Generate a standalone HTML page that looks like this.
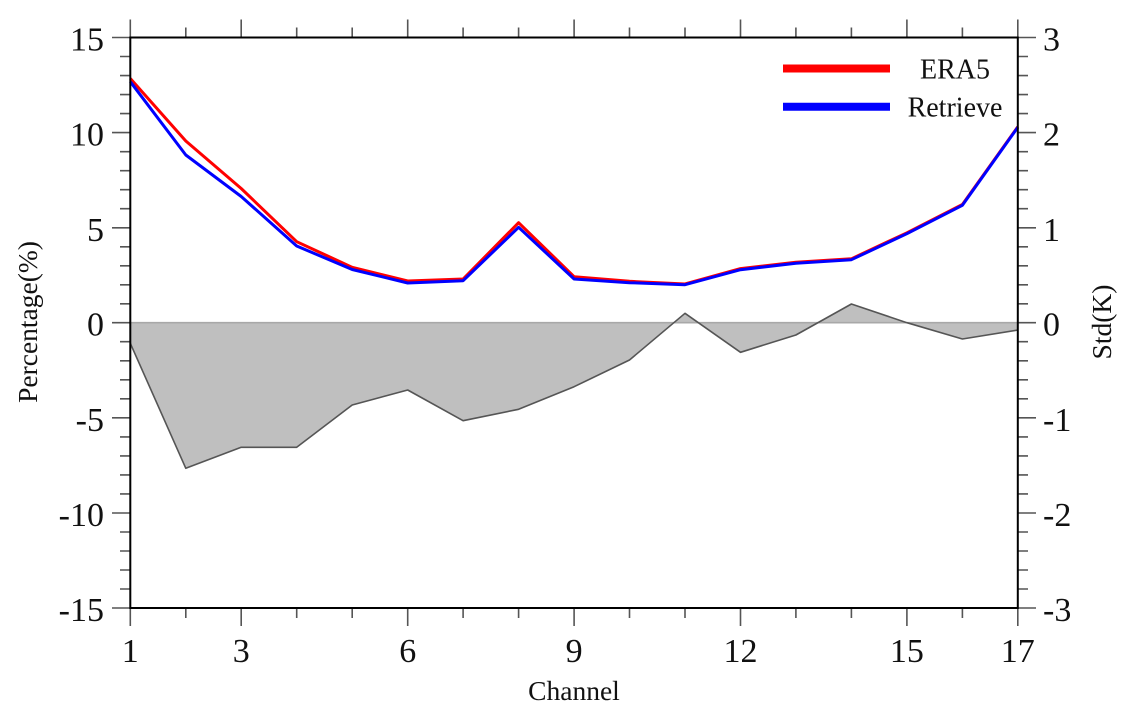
<!DOCTYPE html>
<html><head><meta charset="utf-8"><style>
html,body{margin:0;padding:0;background:#fff;}
svg{display:block;}
text{font-family:"Liberation Serif","Times New Roman",serif;fill:#111;}
</style></head><body>
<svg width="1124" height="715" viewBox="0 0 1124 715" xmlns="http://www.w3.org/2000/svg">
<rect width="1124" height="715" fill="#fff"/>
<!-- shaded area -->
<polygon fill="#bfbfbf" stroke="none" points="130.3,322.7 130.3,343.3 185.8,468.3 241.2,447.3 296.7,447.3 352.2,405 407.7,390 463.1,420.7 518.6,409.3 574.1,386.7 629.5,360 685,313.3 740.5,352.3 795.9,335 851.4,304 906.9,322.7 962.4,339 1017.8,330 1017.8,322.7"/>
<line x1="130" y1="322.7" x2="1018" y2="322.7" stroke="#a8a8a8" stroke-width="1.6"/>
<polyline fill="none" stroke="#555" stroke-width="1.6" stroke-linejoin="round" points="130.3,343.3 185.8,468.3 241.2,447.3 296.7,447.3 352.2,405 407.7,390 463.1,420.7 518.6,409.3 574.1,386.7 629.5,360 685,313.3 740.5,352.3 795.9,335 851.4,304 906.9,322.7 962.4,339 1017.8,330"/>
<!-- ERA5 -->
<polyline fill="none" stroke="#ff0000" stroke-width="3" stroke-linejoin="round" points="130.3,78.5 185.8,141 241.2,188.5 296.7,241.7 352.2,267.3 407.7,281 463.1,279 518.6,222.7 574.1,276.7 629.5,281.3 685,284 740.5,268.6 795.9,262.3 851.4,258.8 906.9,232.8 962.4,204.5 1017.8,126.8"/>
<!-- Retrieve -->
<polyline fill="none" stroke="#0000ff" stroke-width="3" stroke-linejoin="round" points="130.3,81.7 185.8,155 241.2,196.5 296.7,246 352.2,269.5 407.7,283 463.1,280.7 518.6,227.3 574.1,279 629.5,282.7 685,284.7 740.5,269.7 795.9,263.2 851.4,259.7 906.9,233.7 962.4,205.3 1017.8,127.3"/>
<!-- ticks -->
<g stroke="#555" stroke-width="1.6">
<!-- left/right y ticks: major every 5, minor every 1 -->
<path d="
M112,37.5H130 M120,56.5H130 M120,75.6H130 M120,94.6H130 M120,113.6H130
M112,132.6H130 M120,151.7H130 M120,170.7H130 M120,189.7H130 M120,208.7H130
M112,227.8H130 M120,246.8H130 M120,265.8H130 M120,284.8H130 M120,303.8H130
M112,322.7H130 M120,341.7H130 M120,360.8H130 M120,379.8H130 M120,398.8H130
M112,417.8H130 M120,436.9H130 M120,455.9H130 M120,474.9H130 M120,493.9H130
M112,513H130 M120,532H130 M120,551H130 M120,570H130 M120,589H130
M112,608H130
M1018,37.5H1036 M1018,56.5H1028 M1018,75.6H1028 M1018,94.6H1028 M1018,113.6H1028
M1018,132.6H1036 M1018,151.7H1028 M1018,170.7H1028 M1018,189.7H1028 M1018,208.7H1028
M1018,227.8H1036 M1018,246.8H1028 M1018,265.8H1028 M1018,284.8H1028 M1018,303.8H1028
M1018,322.7H1036 M1018,341.7H1028 M1018,360.8H1028 M1018,379.8H1028 M1018,398.8H1028
M1018,417.8H1036 M1018,436.9H1028 M1018,455.9H1028 M1018,474.9H1028 M1018,493.9H1028
M1018,513H1036 M1018,532H1028 M1018,551H1028 M1018,570H1028 M1018,589H1028
M1018,608H1036
"/>
<!-- bottom/top x ticks -->
<path d="
M130.3,608V626 M185.8,608V618 M241.2,608V626 M296.7,608V618 M352.2,608V618 M407.7,608V626
M463.1,608V618 M518.6,608V618 M574.1,608V626 M629.5,608V618 M685,608V618 M740.5,608V626
M795.9,608V618 M851.4,608V618 M906.9,608V626 M962.4,608V618 M1017.8,608V626
M130.3,37.5V19.5 M185.8,37.5V27.5 M241.2,37.5V19.5 M296.7,37.5V27.5 M352.2,37.5V27.5 M407.7,37.5V19.5
M463.1,37.5V27.5 M518.6,37.5V27.5 M574.1,37.5V19.5 M629.5,37.5V27.5 M685,37.5V27.5 M740.5,37.5V19.5
M795.9,37.5V27.5 M851.4,37.5V27.5 M906.9,37.5V19.5 M962.4,37.5V27.5 M1017.8,37.5V19.5
"/>
</g>
<!-- frame -->
<rect x="130.3" y="37.5" width="887.5" height="570.5" fill="none" stroke="#000" stroke-width="2"/>
<!-- legend -->
<line x1="783" y1="68.5" x2="890" y2="68.5" stroke="#ff0000" stroke-width="8"/>
<line x1="783" y1="106.7" x2="890" y2="106.7" stroke="#0000ff" stroke-width="8"/>
<text x="955" y="78.5" font-size="28" text-anchor="middle">ERA5</text>
<text x="955" y="116.7" font-size="28" text-anchor="middle">Retrieve</text>
<!-- left labels -->
<g font-size="34" text-anchor="end">
<text x="104" y="50.5">15</text>
<text x="104" y="145.6">10</text>
<text x="104" y="240.8">5</text>
<text x="104" y="335.7">0</text>
<text x="104" y="430.8">-5</text>
<text x="104" y="526">-10</text>
<text x="104" y="621">-15</text>
</g>
<g font-size="34" text-anchor="start">
<text x="1043" y="50.5">3</text>
<text x="1043" y="145.6">2</text>
<text x="1043" y="240.8">1</text>
<text x="1043" y="335.7">0</text>
<text x="1043" y="430.8">-1</text>
<text x="1043" y="526">-2</text>
<text x="1043" y="621">-3</text>
</g>
<g font-size="34" text-anchor="middle">
<text x="130.3" y="662">1</text>
<text x="241.2" y="662">3</text>
<text x="407.7" y="662">6</text>
<text x="574.1" y="662">9</text>
<text x="740.5" y="662">12</text>
<text x="906.9" y="662">15</text>
<text x="1017.8" y="662">17</text>
</g>
<text x="574" y="700" font-size="27.5" text-anchor="middle">Channel</text>
<text x="37" y="322" font-size="27.5" text-anchor="middle" transform="rotate(-90 37 322)">Percentage(%)</text>
<text x="1111" y="322" font-size="27.5" text-anchor="middle" transform="rotate(-90 1111 322)">Std(K)</text>
</svg>
</body></html>
